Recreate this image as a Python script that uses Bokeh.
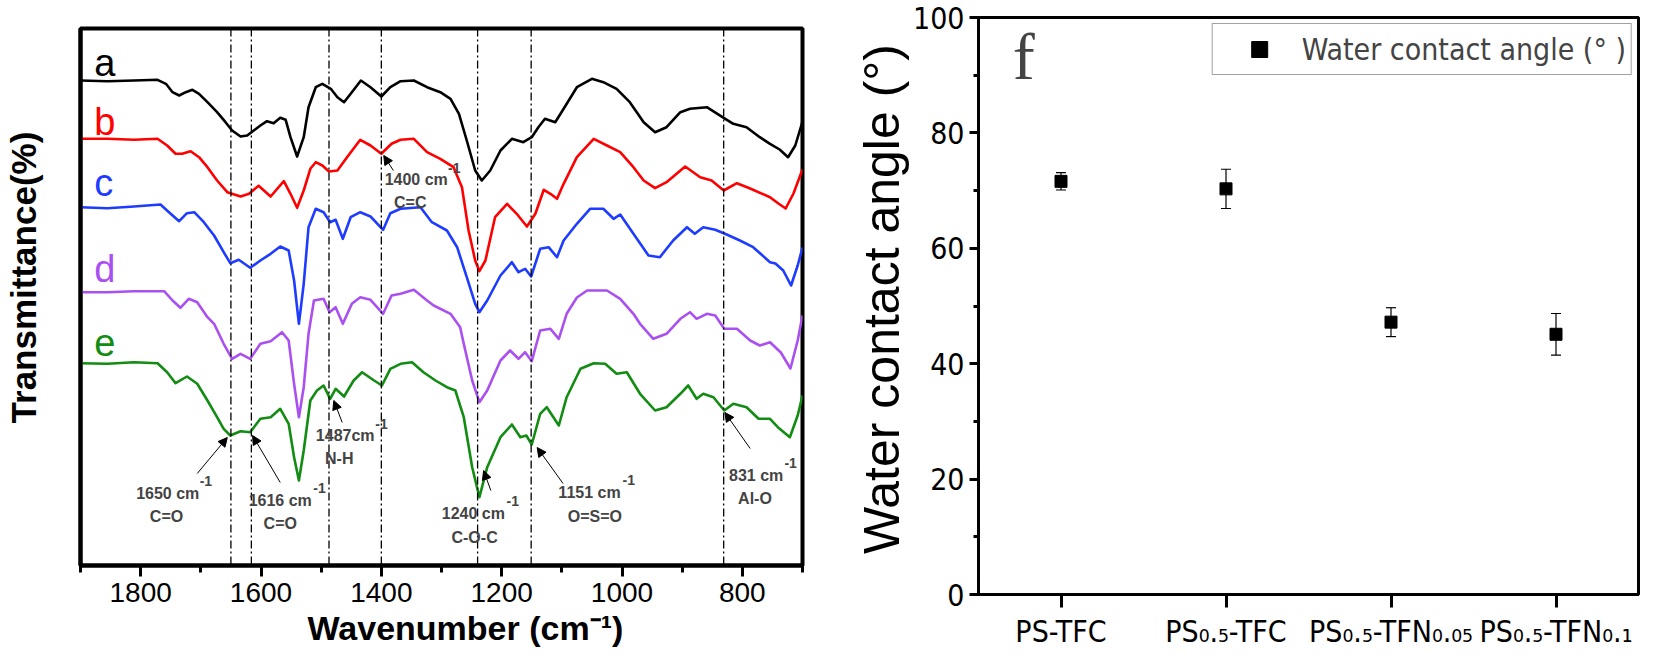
from bokeh.plotting import figure
from bokeh.models import (Range1d, FactorRange, SingleIntervalTicker, FixedTicker, Span, Label, Title,
                          Arrow, NormalHead, Whisker, TeeHead, ColumnDataSource, Legend, LegendItem)
from bokeh.layouts import row, column
from bokeh.embed import file_html
from bokeh.resources import INLINE

# ---------------- FTIR spectra (stacked transmittance, a.u.) ----------------
wn_a = [1900, 1855, 1811, 1772, 1758, 1747, 1736, 1725, 1714, 1703, 1689, 1673, 1659, 1648, 1634, 1623, 1612, 1601, 1590, 1579,
        1568, 1559, 1551, 1540, 1529, 1521, 1509, 1498, 1484, 1473, 1462, 1449, 1434, 1418, 1400, 1385, 1368, 1346, 1324, 1302,
        1285, 1271, 1258, 1244, 1233, 1219, 1202, 1183, 1164, 1150, 1139, 1128, 1111, 1097, 1075, 1050, 1031, 1009, 987, 964,
        945, 926, 903, 887, 859, 831, 815, 793, 771, 754, 738, 724, 712, 700]
t_a = [485, 484.3, 485, 485.7, 481.7, 473.3, 470, 473.3, 475.7, 471.7, 463.3, 453.3, 443.3, 435, 429, 430, 435, 440, 444.3, 442.3,
       447.7, 445.7, 428.3, 409, 428.3, 458.3, 478.3, 481.7, 476.7, 468.3, 463.3, 473.3, 485, 478.3, 469, 478.3, 484.3, 485, 478.3, 473.3,
       466.7, 451.7, 425, 395, 385, 395, 415, 426.7, 423.3, 428.3, 438.3, 446.7, 443.3, 456.7, 478.3, 486.7, 483.3, 476.7, 463.3, 443.3,
       433.3, 438.3, 453.3, 456.7, 458.3, 447.7, 441.7, 438.3, 428.3, 421.7, 416, 408.3, 420, 444]

wn_b = [1900, 1855, 1811, 1772, 1756, 1742, 1731, 1717, 1703, 1689, 1673, 1656, 1634, 1620, 1604, 1584, 1562, 1551, 1540, 1529,
        1518, 1509, 1498, 1487, 1473, 1457, 1435, 1418, 1400, 1383, 1368, 1346, 1324, 1302, 1280, 1266, 1255, 1244, 1237, 1227,
        1211, 1191, 1175, 1158, 1144, 1130, 1119, 1108, 1097, 1075, 1047, 1025, 1003, 981, 964, 945, 926, 895, 870, 851,
        831, 809, 787, 754, 740, 728, 715, 700]
t_b = [426.7, 426.7, 425.7, 426.7, 420, 411.7, 411.7, 414.3, 408.3, 398.3, 385, 373.3, 369, 371.7, 379.7, 369, 384.3, 371.7, 357.7, 375,
       396.7, 403.3, 400, 394, 395, 408.3, 425.7, 420, 411.7, 421.7, 425.7, 426.7, 413.3, 406.7, 398.3, 378.3, 335, 305, 294.3, 305,
       348.3, 361.7, 351.7, 339, 351.7, 375.7, 371.7, 366.7, 381.7, 408.3, 426.7, 420, 413.3, 398.3, 385, 377.3, 383.3, 399, 388.3, 385,
       375, 382.3, 377, 368.3, 362, 357, 372, 396]

wn_c = [1900, 1855, 1811, 1767, 1753, 1736, 1723, 1711, 1695, 1678, 1662, 1651, 1637, 1618, 1601, 1584, 1568, 1554, 1545, 1537,
        1529, 1521, 1509, 1496, 1485, 1476, 1464, 1451, 1435, 1418, 1397, 1385, 1368, 1335, 1316, 1291, 1274, 1258, 1244, 1237,
        1224, 1202, 1183, 1172, 1161, 1151, 1136, 1122, 1108, 1097, 1075, 1053, 1031, 1014, 1003, 981, 956, 937, 915, 892,
        879, 865, 845, 826, 804, 782, 754, 745, 732, 719, 708, 700]
t_c = [358.3, 357.3, 359, 361, 353.3, 344.3, 352.3, 353.3, 343.3, 330, 313.3, 302.3, 305.7, 297.7, 305, 311.7, 319, 315, 285, 241.7,
       281.7, 338.3, 356.7, 353.3, 343.3, 345.7, 326.7, 348.3, 353.3, 349, 335.7, 352.3, 356.7, 358.3, 343.3, 335, 318.3, 288.3, 261.7, 253.3,
       265, 290, 303.3, 293.3, 296.7, 289, 316.7, 318.3, 308.3, 325, 341.7, 356.7, 356.7, 346.7, 351, 331.7, 310, 308.3, 325, 338.3,
       331.7, 338.3, 335.7, 331, 325, 318.3, 303.3, 302, 295, 280, 300, 318]

wn_d = [1900, 1855, 1811, 1761, 1747, 1734, 1720, 1706, 1689, 1678, 1662, 1648, 1634, 1618, 1601, 1584, 1565, 1554, 1545, 1537,
        1529, 1521, 1512, 1496, 1486, 1476, 1464, 1449, 1435, 1418, 1397, 1383, 1368, 1346, 1324, 1313, 1285, 1269, 1263, 1249,
        1237, 1224, 1202, 1186, 1172, 1161, 1150, 1136, 1119, 1105, 1092, 1075, 1058, 1025, 1003, 981, 970, 948, 926, 903,
        887, 876, 859, 845, 830, 809, 787, 771, 754, 736, 720, 708, 700]
t_d = [273.3, 273.3, 274.3, 274.3, 265, 257.7, 266.7, 263.3, 248.3, 241.7, 221.7, 206.7, 211.7, 206.7, 221.7, 224.3, 233.3, 225, 181.7, 148.3,
       178.3, 231.7, 265, 266.7, 253.3, 258.3, 241.7, 261.7, 268.3, 265.7, 251.7, 270, 271.7, 275.7, 265, 260, 251.7, 238.3, 221.7, 185,
       163.3, 175, 205, 215, 206.7, 213.3, 204.3, 235, 236.7, 226.7, 251.7, 268, 275, 275, 266.7, 251.7, 241.7, 226.7, 231.7, 246.7,
       253.3, 246.7, 251.7, 250, 236.7, 236.7, 225, 220, 223.3, 213, 197, 225, 250]

wn_e = [1900, 1855, 1811, 1772, 1756, 1742, 1723, 1706, 1689, 1673, 1662, 1651, 1634, 1618, 1601, 1584, 1568, 1554, 1545, 1537,
        1529, 1518, 1507, 1496, 1485, 1476, 1462, 1446, 1432, 1412, 1399, 1385, 1368, 1349, 1330, 1310, 1291, 1277, 1263, 1249,
        1237, 1224, 1202, 1183, 1169, 1159, 1150, 1136, 1125, 1105, 1092, 1069, 1047, 1028, 1009, 992, 970, 945, 926, 903,
        890, 876, 865, 848, 830, 815, 793, 773, 754, 741, 721, 708, 700]
t_e = [202.3, 201.7, 203.3, 202.3, 193.3, 182.3, 189, 181.7, 165, 148.3, 136.7, 130, 134.3, 133.3, 146.7, 148.3, 156.7, 141.7, 108.3, 85,
       115, 165, 175, 180, 166.7, 176.7, 169, 185, 193.3, 185, 180, 196.7, 201.7, 203.3, 193.3, 185, 178.3, 175, 148.3, 98.3,
       68.3, 98.3, 128.3, 141, 128.3, 130, 121, 151.7, 158.3, 140, 168.3, 196.7, 202.3, 201.7, 191.7, 193.3, 171.7, 155, 158.3, 171.7,
       180, 166.7, 171.7, 168.3, 155, 161.7, 158.3, 146.7, 146.7, 138.3, 128.3, 150, 170]

curve_names = ["a", "b", "c", "d", "e"]
curve_colors = ["#000000", "#ff0000", "#1e3cff", "#aa50f0", "#128c12"]

peak_wn = [1650, 1616, 1487, 1400, 1240, 1151, 831]
peak_text = ["1650 cm", "1616 cm", "1487cm", "1400 cm", "1240 cm", "1151 cm", "831 cm"]
peak_group = ["C=O", "C=O", "N-H", "C=C", "C-O-C", "O=S=O", "Al-O"]

# ---------------- Contact angle ----------------
categories = ["PS-TFC", "PS\u2080.\u2085-TFC", "PS\u2080.\u2085-TFN\u2080.\u2080\u2085", "PS\u2080.\u2085-TFN\u2080.\u2081"]
angles = [71.6, 70.3, 47.2, 45.1]
angle_err = [1.5, 3.4, 2.5, 3.6]

SANS = "Liberation Sans"
NARROW = "'DejaVu Sans Condensed', 'Liberation Sans'"
NBSP = "\u00a0"

# ======================= left panel =======================
left = figure(width=850, height=662, x_range=Range1d(1900, 700), y_range=Range1d(0, 537),
              output_backend="svg", toolbar_location=None, title=None,
              min_border_left=80, min_border_right=48, min_border_top=28, min_border_bottom=97)
left.xgrid.visible = False
left.ygrid.visible = False
left.outline_line_color = "black"
left.outline_line_width = 4
left.background_fill_color = "white"
left.border_fill_color = "white"

xa = left.xaxis[0]
xa.ticker = SingleIntervalTicker(interval=200, num_minor_ticks=2)
xa.axis_line_width = 4
xa.major_tick_line_width = 3
xa.minor_tick_line_width = 3
xa.major_tick_out = 11
xa.major_tick_in = 0
xa.minor_tick_out = 7
xa.minor_tick_in = 0
xa.major_label_text_font = SANS
xa.major_label_text_font_size = "28px"
xa.major_label_text_color = "black"
xa.major_label_standoff = 6

ya = left.yaxis[0]
ya.ticker = FixedTicker(ticks=[])
ya.axis_line_width = 4
ya.major_tick_out = 0
ya.minor_tick_out = 0
ya.axis_label = NBSP * 4 + "Transmittance(%)"
ya.axis_label_text_font = SANS
ya.axis_label_text_font_style = "bold"
ya.axis_label_text_font_size = "35px"
ya.axis_label_text_color = "black"
ya.axis_label_standoff = 38

left.add_layout(Title(text="Wavenumber (cm\u207b\u00b9)", align="left", offset=227, vertical_align="middle",
                      standoff=6, text_font=SANS, text_font_style="bold", text_font_size="34px",
                      text_color="black"), "below")

for loc in peak_wn:
    left.add_layout(Span(location=loc, dimension="height", line_color="black",
                         line_width=1.3, line_dash="8 3 2 3"))

spectra = [(wn_a, t_a), (wn_b, t_b), (wn_c, t_c), (wn_d, t_d), (wn_e, t_e)]
for (wn, tt), col in zip(spectra, curve_colors):
    left.line(wn, tt, line_color=col, line_width=2.6, line_join="round")

label_pos = [503, 444, 383, 297, 223]
for name, col, yy in zip(curve_names, curve_colors, label_pos):
    left.add_layout(Label(x=1877, y=yy, text=name, text_color=col, text_font=SANS,
                          text_font_size="38px", text_align="left", text_baseline="middle"))

# annotation positions: (text x, text y, sup x, sup y, group x, group y, tail x, tail y, head x, head y)
ann_pos = [
    (1755, 72.5, 1702, 85, 1757, 49.5, 1706, 92, 1656, 128),
    (1568, 65.5, 1513, 78, 1568, 42.5, 1568, 83, 1614, 130),
    (1460, 130.5, 1410, 142, 1470, 107.5, 1465, 143, 1479, 165),
    (1342, 386.5, 1289, 398, 1352, 363.5, 1380, 395, 1396, 410),
    (1247, 52.5, 1192, 65, 1245, 28.5, 1218, 75, 1230, 95),
    (1054, 73.5, 999, 86, 1045, 49.5, 1098, 82, 1141, 118),
    (777, 90.5, 730, 103, 779, 67.5, 787, 117, 829, 153),
]
for txt, grp, pos in zip(peak_text, peak_group, ann_pos):
    tx, ty, sx, sy, gx, gy, ax0, ay0, ax1, ay1 = pos
    left.add_layout(Label(x=tx, y=ty, text=txt, text_font=SANS, text_font_style="bold",
                          text_font_size="16px", text_align="center", text_baseline="middle"))
    left.add_layout(Label(x=sx, y=sy, text="-1", text_font=SANS, text_font_style="bold",
                          text_font_size="14px", text_align="left", text_baseline="middle"))
    left.add_layout(Label(x=gx, y=gy, text=grp, text_font=SANS, text_font_style="bold",
                          text_font_size="16px", text_align="center", text_baseline="middle"))
    left.add_layout(Arrow(x_start=ax0, y_start=ay0, x_end=ax1, y_end=ay1, line_color="black", line_width=1,
                          end=NormalHead(size=9, fill_color="black", line_color="black", line_width=1)))

# ======================= right panel =======================
right = figure(width=804, height=662, x_range=FactorRange(*categories), y_range=Range1d(0, 100),
               output_backend="svg", toolbar_location=None, title=None,
               min_border_left=122, min_border_right=16, min_border_top=17, min_border_bottom=68)
right.xgrid.visible = False
right.ygrid.visible = False
right.outline_line_color = "black"
right.outline_line_width = 3
right.background_fill_color = "white"
right.border_fill_color = "white"

ry = right.yaxis[0]
ry.ticker = SingleIntervalTicker(interval=20, num_minor_ticks=2)
ry.axis_line_width = 3
ry.major_tick_line_width = 3
ry.minor_tick_line_width = 3
ry.major_tick_out = 9
ry.major_tick_in = 0
ry.minor_tick_out = 5
ry.minor_tick_in = 0
ry.major_label_text_font = NARROW
ry.major_label_text_font_size = "30px"
ry.major_label_text_color = "black"
ry.major_label_standoff = 5
ry.axis_label = NBSP + "Water contact angle (\u00b0)"
ry.axis_label_text_font = SANS
ry.axis_label_text_font_style = "normal"
ry.axis_label_text_font_size = "50px"
ry.axis_label_text_color = "black"
ry.axis_label_standoff = 0

rx = right.xaxis[0]
rx.axis_line_width = 3
rx.major_tick_line_width = 3
rx.major_tick_out = 13
rx.major_tick_in = 0
rx.major_label_text_font = NARROW
rx.major_label_text_font_size = "30px"
rx.major_label_text_color = "black"
rx.major_label_standoff = 6

src = ColumnDataSource(dict(x=categories, y=angles,
                            upper=[a + e for a, e in zip(angles, angle_err)],
                            lower=[a - e for a, e in zip(angles, angle_err)]))
right.add_layout(Whisker(source=src, base="x", upper="upper", lower="lower", line_color="black", line_width=1.2,
                         upper_head=TeeHead(size=10, line_color="black", line_width=1.2),
                         lower_head=TeeHead(size=10, line_color="black", line_width=1.2)))
pts = right.scatter("x", "y", source=src, marker="square", size=12, color="black")

legend = Legend(items=[LegendItem(label="Water contact angle (\u00b0 )", renderers=[pts])],
                location="top_right", margin=6, padding=5, spacing=0,
                glyph_width=83, glyph_height=40, label_height=40, label_standoff=1,
                label_text_font=NARROW, label_text_font_size="30px",
                border_line_color="#444444", border_line_width=1,
                background_fill_color="white", background_fill_alpha=1.0)
right.add_layout(legend)

right.add_layout(Label(x=0.208, y=93.2, text="f", text_font="Liberation Serif", text_font_size="66px",
                       text_align="left", text_baseline="middle"))

page = row(column(left), column(right))
open("out.html", "w").write(file_html(page, INLINE))
